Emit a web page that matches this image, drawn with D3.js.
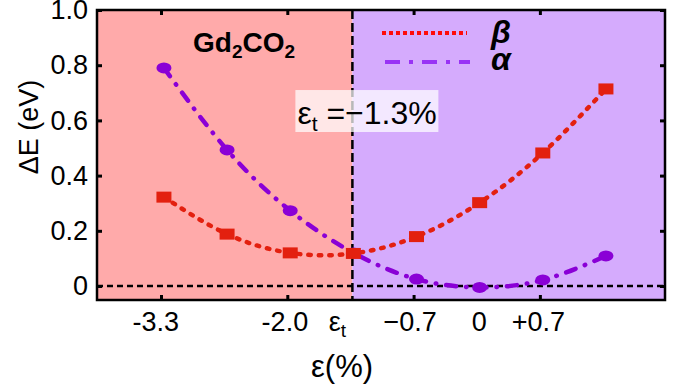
<!DOCTYPE html>
<html>
<head>
<meta charset="utf-8">
<script src="https://cdn.jsdelivr.net/npm/d3@7"></script>
<style>
  html, body { margin: 0; padding: 0; background: #fff; }
  svg { display: block; font-family: "Liberation Sans", Arial, sans-serif; }
  .tick text { font-size: 27px; fill: #000; }
</style>
</head>
<body>
<svg id="chart" width="676" height="384"></svg>
<script>
// strain (%), one per calculated point
const strain = [-3.27, -2.62, -1.97, -1.32, -0.67, -0.02, 0.63, 1.28];
const beta = [0.322, 0.188, 0.12, 0.118, 0.179, 0.302, 0.482, 0.714];
const alpha = [0.79, 0.493, 0.273, 0.12, 0.025, -0.005, 0.022, 0.109];

const eps_t = -1.33;
const x_ticks = [-3.3, -2.0, -0.7, 0.6];
const x_label_at = [-3.36, -2.03, -1.49, -0.74, -0.03, 0.58];
const x_labels = ["-3.3", "-2.0", "εt", "\u22120.7", "0", "+0.7"];
const y_ticks = [0, 0.2, 0.4, 0.6, 0.8, 1.0];

const margin = { left: 97, right: 11, top: 10, bottom: 84 };
const width = 676, height = 384;

const svg = d3.select("#chart");

const x = d3.scaleLinear()
  .domain([-3.959, 1.888])
  .range([margin.left, width - margin.right]);

const y = d3.scaleLinear()
  .domain([-0.0507, 1.0])
  .range([height - margin.bottom, margin.top]);

const x0 = x.range()[0], x1 = x.range()[1];
const y0 = y.range()[0], y1 = y.range()[1];

// background regions either side of the transition strain
svg.append("rect")
  .attr("x", x0).attr("y", y1)
  .attr("width", x(eps_t) - x0).attr("height", y0 - y1)
  .attr("fill", "#ffaaaa");
svg.append("rect")
  .attr("x", x(eps_t)).attr("y", y1)
  .attr("width", x1 - x(eps_t)).attr("height", y0 - y1)
  .attr("fill", "#d5abfd");

// zero line and transition line
svg.append("line")
  .attr("x1", x0).attr("x2", x1)
  .attr("y1", y(0)).attr("y2", y(0))
  .attr("stroke", "#000").attr("stroke-width", 2.5)
  .attr("stroke-dasharray", "6,4");
svg.append("line")
  .attr("x1", x(eps_t)).attr("x2", x(eps_t))
  .attr("y1", y1).attr("y2", y0)
  .attr("stroke", "#000").attr("stroke-width", 2.5)
  .attr("stroke-dasharray", "9,4");

// fitted curves
const line_of = (vals) => d3.line()
  .x((d, i) => x(strain[i]))
  .y((d) => y(d))
  .curve(d3.curveNatural)(vals);

svg.append("path")
  .attr("d", line_of(alpha))
  .attr("fill", "none")
  .attr("stroke", "#8a00d6")
  .attr("stroke-width", 4.5)
  .attr("stroke-linecap", "round")
  .attr("stroke-dasharray", "10,10,0.5,10");

svg.append("path")
  .attr("d", line_of(beta))
  .attr("fill", "none")
  .attr("stroke", "#e3200f")
  .attr("stroke-width", 4.5)
  .attr("stroke-linecap", "round")
  .attr("stroke-dasharray", "2.5,8");

// markers
svg.append("g").selectAll("ellipse")
  .data(alpha)
  .join("ellipse")
  .attr("cx", (d, i) => x(strain[i]))
  .attr("cy", (d) => y(d))
  .attr("rx", 7.5).attr("ry", 5.5)
  .attr("fill", "#8a00d6");

svg.append("g").selectAll("rect")
  .data(beta)
  .join("rect")
  .attr("x", (d, i) => x(strain[i]) - 7.5)
  .attr("y", (d) => y(d) - 5.5)
  .attr("width", 15).attr("height", 11)
  .attr("fill", "#e3200f");

// annotation box
const note = svg.append("g");
note.append("rect")
  .attr("x", x(eps_t) - 57).attr("y", y(0.71))
  .attr("width", 143).attr("height", y(0.558) - y(0.71))
  .attr("fill", "#fff").attr("fill-opacity", 0.72);
const note_text = note.append("text")
  .attr("x", x(eps_t) - 55).attr("y", y(0.588))
  .attr("font-size", 32);
note_text.append("tspan").text("ε");
note_text.append("tspan").attr("font-size", 21).attr("dy", 7).text("t");
note_text.append("tspan").attr("dy", -7).text(" =\u22121.3%");

// compound label
const title = svg.append("text")
  .attr("x", 193).attr("y", 51.5)
  .attr("font-size", 28).attr("font-weight", "bold");
title.append("tspan").text("Gd");
title.append("tspan").attr("font-size", 19).attr("dy", 6).text("2");
title.append("tspan").attr("dy", -6).text("CO");
title.append("tspan").attr("font-size", 19).attr("dy", 6).text("2");

// legend
const legend = svg.append("g");
legend.append("line")
  .attr("x1", 382).attr("x2", 467).attr("y1", 33).attr("y2", 33)
  .attr("stroke", "#ff0a0a").attr("stroke-width", 4)
  .attr("stroke-dasharray", "4,3");
legend.append("line")
  .attr("x1", 385).attr("x2", 470).attr("y1", 62).attr("y2", 62)
  .attr("stroke", "#9933f5").attr("stroke-width", 4)
  .attr("stroke-dasharray", "15,9,4,9");
legend.append("text")
  .attr("x", 491).attr("y", 43)
  .attr("font-size", 32).attr("font-weight", "bold").attr("font-style", "italic")
  .text("β");
legend.append("text")
  .attr("x", 491).attr("y", 70)
  .attr("font-size", 32).attr("font-weight", "bold").attr("font-style", "italic")
  .text("α");

// axes: tick marks on all four sides, pointing in
const tick_style = (g) => {
  g.select(".domain").remove();
  g.selectAll(".tick line").attr("stroke", "#000").attr("stroke-width", 3);
};

svg.append("g")
  .attr("transform", `translate(0,${y0})`)
  .call(d3.axisBottom(x).tickValues(x_ticks).tickSizeInner(-5).tickSizeOuter(0).tickFormat(""))
  .call(tick_style);
svg.append("g")
  .attr("transform", `translate(0,${y1})`)
  .call(d3.axisTop(x).tickValues(x_ticks).tickSizeInner(-5).tickSizeOuter(0).tickFormat(""))
  .call(tick_style);
svg.append("g")
  .attr("transform", `translate(${x1},0)`)
  .call(d3.axisRight(y).tickValues(y_ticks).tickSizeInner(-5).tickSizeOuter(0).tickFormat(""))
  .call(tick_style);

svg.append("g")
  .attr("transform", `translate(${x0},0)`)
  .call(d3.axisLeft(y).tickValues(y_ticks).tickSizeInner(-5).tickSizeOuter(0)
    .tickPadding(9).tickFormat((d) => (d === 0 ? "0" : d.toFixed(1))))
  .call(tick_style);

const x_lab = svg.append("g")
  .attr("transform", `translate(0,${y0})`)
  .call(d3.axisBottom(x).tickValues(x_label_at).tickSize(0).tickPadding(12)
    .tickFormat((d, i) => x_labels[i]));
x_lab.select(".domain").remove();
x_lab.selectAll(".tick text").each(function (d, i) {
  if (x_labels[i] === "εt") {
    const t = d3.select(this).text("");
    t.append("tspan").text("ε");
    t.append("tspan").attr("font-size", 19).attr("dy", "0.3em").text("t");
  }
});

// frame
svg.append("rect")
  .attr("x", x0).attr("y", y1)
  .attr("width", x1 - x0).attr("height", y0 - y1)
  .attr("fill", "none").attr("stroke", "#000").attr("stroke-width", 2.5);

// axis titles
svg.append("text")
  .attr("transform", `translate(38,127) rotate(-90)`)
  .attr("text-anchor", "middle")
  .attr("font-size", 27)
  .text("ΔE (eV)");
svg.append("text")
  .attr("x", 342).attr("y", 377)
  .attr("text-anchor", "middle")
  .attr("font-size", 31)
  .text("ε(%)");
</script>
</body>
</html>
